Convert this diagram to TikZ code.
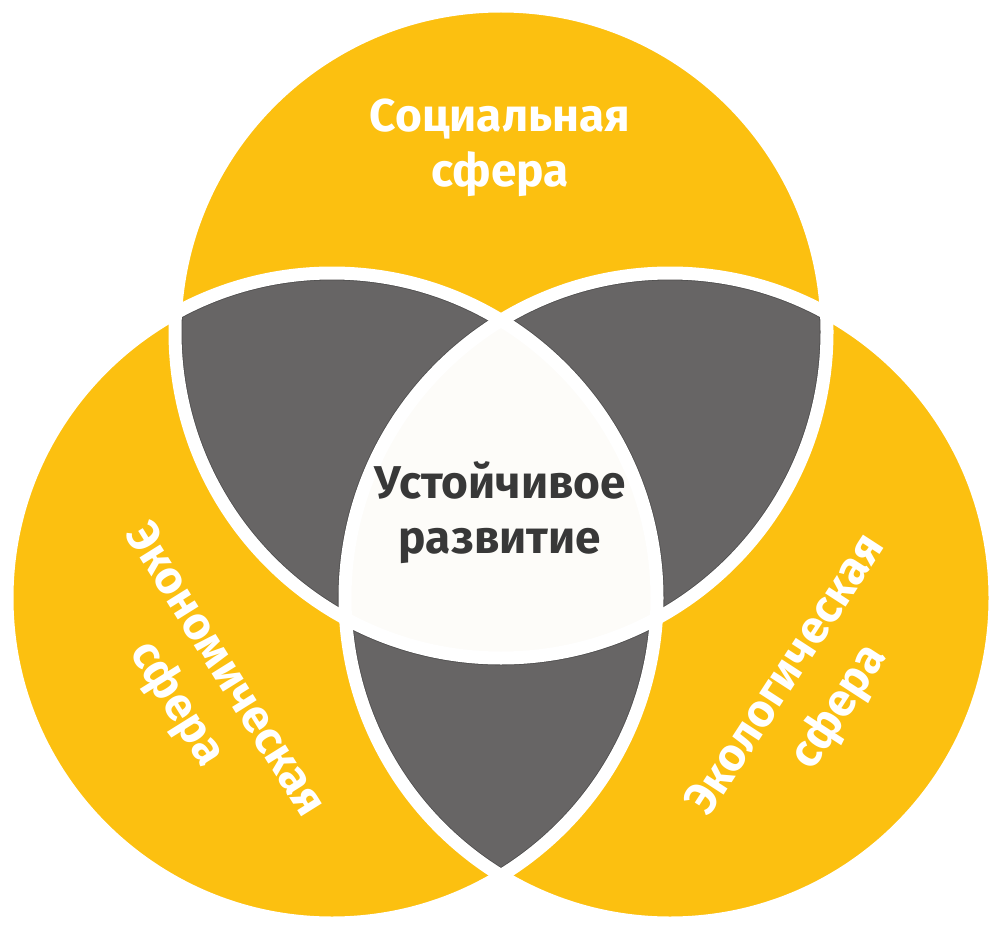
\documentclass[tikz,border=0pt]{standalone}
\usepackage{fontspec}
\setmainfont{Fira Sans}
\definecolor{sunyellow}{HTML}{FCC010}
\definecolor{midgrey}{HTML}{676565}
\definecolor{edgegrey}{HTML}{4E4D4D}
\definecolor{coreface}{HTML}{FDFCF9}
\definecolor{coretext}{HTML}{383838}
\tikzset{
  whitelab/.style={text=white, font=\bfseries\fontsize{46}{55}\selectfont, inner sep=0pt, anchor=base},
  corelab/.style={text=coretext, font=\bfseries\fontsize{46}{55}\selectfont, inner sep=0pt, anchor=base},
  gap/.style={draw=white, line width=13pt},
  rim/.style={draw=edgegrey, line width=14.6pt}
}
\begin{document}
\begin{tikzpicture}[x=1pt,y=-1pt]
\useasboundingbox (0,0) rectangle (1001,928);
\fill[white] (0,0) rectangle (1001,928);
\def\radt{326pt}
\def\rads{325pt}
\coordinate (ct) at (501,332);
\coordinate (cl) at (332,598);
\coordinate (cr) at (670,598);
% yellow circles
\fill[sunyellow] (ct) circle[radius=\radt];
\fill[sunyellow] (cl) circle[radius=\rads];
\fill[sunyellow] (cr) circle[radius=\rads];
% pairwise overlaps
\begin{scope}
  \clip (ct) circle[radius=\radt];
  \fill[midgrey] (cl) circle[radius=\rads];
  \fill[midgrey] (cr) circle[radius=\rads];
\end{scope}
\begin{scope}
  \clip (cl) circle[radius=\rads];
  \fill[midgrey] (cr) circle[radius=\rads];
\end{scope}
% triple overlap
\begin{scope}
  \clip (ct) circle[radius=\radt];
  \clip (cl) circle[radius=\rads];
  \fill[coreface] (cr) circle[radius=\rads];
\end{scope}
% thin dark rims of the grey lenses
\begin{scope}
  \clip (ct) circle[radius=\radt];
  \clip (cl) circle[radius=\rads];
  \begin{scope}[even odd rule]
    \clip (-20,-20) rectangle (1021,948) (cr) circle[radius=\rads];
    \draw[rim] (ct) circle[radius=\radt];
    \draw[rim] (cl) circle[radius=\rads];
    \draw[rim] (cr) circle[radius=\rads];
  \end{scope}
\end{scope}
\begin{scope}
  \clip (ct) circle[radius=\radt];
  \clip (cr) circle[radius=\rads];
  \begin{scope}[even odd rule]
    \clip (-20,-20) rectangle (1021,948) (cl) circle[radius=\rads];
    \draw[rim] (ct) circle[radius=\radt];
    \draw[rim] (cl) circle[radius=\rads];
    \draw[rim] (cr) circle[radius=\rads];
  \end{scope}
\end{scope}
\begin{scope}
  \clip (cl) circle[radius=\rads];
  \clip (cr) circle[radius=\rads];
  \begin{scope}[even odd rule]
    \clip (-20,-20) rectangle (1021,948) (ct) circle[radius=\radt];
    \draw[rim] (ct) circle[radius=\radt];
    \draw[rim] (cl) circle[radius=\rads];
    \draw[rim] (cr) circle[radius=\rads];
  \end{scope}
\end{scope}
% white separating rings
\draw[gap] (ct) circle[radius=\radt];
\draw[gap] (cl) circle[radius=\rads];
\draw[gap] (cr) circle[radius=\rads];
% labels
\node[whitelab] (soc1) at (500,132) {Социальная};
\node[whitelab] (soc2) at (500,187) {сфера};
\node[corelab] (core1) at (500,498) {Устойчивое};
\node[corelab] (core2) at (500,553) {развитие};
\node[whitelab, rotate=-58] (eco1) at (214,677) {Экономическая};
\node[whitelab, rotate=-58] (eco2) at (166,711) {сфера};
\node[whitelab, rotate=57] (env1) at (797,682) {Экологическая};
\node[whitelab, rotate=57] (env2) at (850,714) {сфера};
\end{tikzpicture}
\end{document}
